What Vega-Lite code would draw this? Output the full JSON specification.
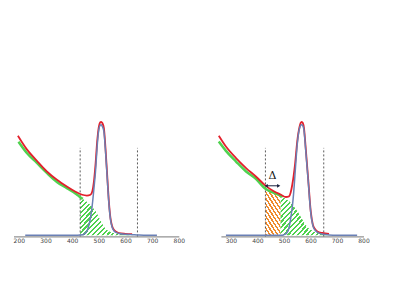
{
  "$schema": "https://vega.github.io/schema/vega-lite/v6.json",
  "padding": {"left": 12.5, "top": 117.8, "right": 0, "bottom": 0},
  "background": "white",
  "bounds": "flush",
  "spacing": 41.4,
  "config": {
    "view": {"stroke": null},
    "axis": {"domainColor": "#555", "domainWidth": 0.8, "ticks": false, "grid": false, "labelFontSize": 6, "labelColor": "#444", "labelPadding": 1, "labelFont": "DejaVu Sans", "labelFlush": false, "labelOverlap": false}
  },
  "datasets": {
    "L": [
      {"s": "red", "x": 196.5, "y": 87.7}, {"s": "red", "x": 230, "y": 75.7}, {"s": "red", "x": 267.7, "y": 65.6}, {"s": "red", "x": 305, "y": 56.2}, {"s": "red", "x": 342.7, "y": 48.9}, {"s": "red", "x": 380, "y": 43.0}, {"s": "red", "x": 411, "y": 38.6}, {"s": "red", "x": 437.6, "y": 35.7}, {"s": "red", "x": 455, "y": 35}, {"s": "red", "x": 468.7, "y": 35.7}, {"s": "red", "x": 476, "y": 39}, {"s": "red", "x": 481.5, "y": 47}, {"s": "red", "x": 487.5, "y": 62}, {"s": "red", "x": 493.8, "y": 82.6}, {"s": "red", "x": 500.2, "y": 95.8}, {"s": "red", "x": 505, "y": 99.5}, {"s": "red", "x": 508.8, "y": 100}, {"s": "red", "x": 513, "y": 99}, {"s": "red", "x": 519, "y": 94.5}, {"s": "red", "x": 525, "y": 76.8}, {"s": "red", "x": 531.3, "y": 53.3}, {"s": "red", "x": 537.7, "y": 29.8}, {"s": "red", "x": 543.7, "y": 15.1}, {"s": "red", "x": 550, "y": 8}, {"s": "red", "x": 556.5, "y": 4.8}, {"s": "red", "x": 565, "y": 3}, {"s": "red", "x": 575, "y": 1.9}, {"s": "red", "x": 600, "y": 1.3}, {"s": "red", "x": 625, "y": 1.0},
      {"s": "green", "x": 198.7, "y": 82.4}, {"s": "green", "x": 230, "y": 72.5}, {"s": "green", "x": 267.7, "y": 63.7}, {"s": "green", "x": 305, "y": 54.9}, {"s": "green", "x": 342.7, "y": 47.0}, {"s": "green", "x": 380, "y": 41.5}, {"s": "green", "x": 417.7, "y": 36.0}, {"s": "green", "x": 430, "y": 33.5}, {"s": "green", "x": 440, "y": 32},
      {"s": "hatch", "x": 430, "y": 33.5}, {"s": "hatch", "x": 440, "y": 32}, {"s": "hatch", "x": 449, "y": 30.7}, {"s": "hatch", "x": 458, "y": 29}, {"s": "hatch", "x": 467.6, "y": 26.9}, {"s": "hatch", "x": 480, "y": 23.5}, {"s": "hatch", "x": 492.7, "y": 19.5}, {"s": "hatch", "x": 502, "y": 15}, {"s": "hatch", "x": 511.5, "y": 10.7}, {"s": "hatch", "x": 520, "y": 7.2}, {"s": "hatch", "x": 530, "y": 4.8}, {"s": "hatch", "x": 542, "y": 3}, {"s": "hatch", "x": 555, "y": 1.9}, {"s": "hatch", "x": 570, "y": 1.3}, {"s": "hatch", "x": 586, "y": 1}, {"s": "hatch", "x": 600, "y": 0.6}, {"s": "hatch", "x": 615, "y": 0.2},
      {"s": "blue", "x": 224, "y": 0}, {"s": "blue", "x": 300, "y": 0}, {"s": "blue", "x": 400, "y": 0}, {"s": "blue", "x": 440, "y": 0.5}, {"s": "blue", "x": 450, "y": 2}, {"s": "blue", "x": 458, "y": 5}, {"s": "blue", "x": 465, "y": 11}, {"s": "blue", "x": 472.5, "y": 21}, {"s": "blue", "x": 477, "y": 30}, {"s": "blue", "x": 482, "y": 42}, {"s": "blue", "x": 487.5, "y": 56}, {"s": "blue", "x": 492, "y": 72}, {"s": "blue", "x": 496, "y": 85}, {"s": "blue", "x": 500, "y": 93}, {"s": "blue", "x": 505, "y": 97}, {"s": "blue", "x": 508.8, "y": 97.5}, {"s": "blue", "x": 513, "y": 96}, {"s": "blue", "x": 519, "y": 91.5}, {"s": "blue", "x": 525, "y": 74.5}, {"s": "blue", "x": 531.3, "y": 51.5}, {"s": "blue", "x": 537.7, "y": 28.5}, {"s": "blue", "x": 543.7, "y": 14}, {"s": "blue", "x": 550, "y": 7}, {"s": "blue", "x": 556.5, "y": 4}, {"s": "blue", "x": 565, "y": 2.5}, {"s": "blue", "x": 575, "y": 1.5}, {"s": "blue", "x": 600, "y": 0.8}, {"s": "blue", "x": 625, "y": 0.5}, {"s": "blue", "x": 650, "y": 0.2}, {"s": "blue", "x": 680, "y": 0}, {"s": "blue", "x": 718, "y": 0},
      {"s": "dash", "x": 430, "y": -1, "y2": 77}, {"s": "dash", "x": 645, "y": -1, "y2": 77}
    ],
    "R": [
      {"s": "red", "x": 254, "y": 87.7}, {"s": "red", "x": 281, "y": 78.2}, {"s": "red", "x": 319, "y": 68}, {"s": "red", "x": 357, "y": 59.2}, {"s": "red", "x": 394, "y": 51.8}, {"s": "red", "x": 429, "y": 44}, {"s": "red", "x": 460, "y": 39}, {"s": "red", "x": 489, "y": 35.7}, {"s": "red", "x": 507, "y": 33.7}, {"s": "red", "x": 519, "y": 34.2}, {"s": "red", "x": 525, "y": 37.5}, {"s": "red", "x": 531.3, "y": 44.5}, {"s": "red", "x": 541.5, "y": 62}, {"s": "red", "x": 550, "y": 82.6}, {"s": "red", "x": 559, "y": 95.8}, {"s": "red", "x": 563, "y": 99}, {"s": "red", "x": 567, "y": 100}, {"s": "red", "x": 571, "y": 99}, {"s": "red", "x": 575.5, "y": 94.5}, {"s": "red", "x": 582, "y": 76.8}, {"s": "red", "x": 592, "y": 47.4}, {"s": "red", "x": 601, "y": 21}, {"s": "red", "x": 609, "y": 9.3}, {"s": "red", "x": 617, "y": 5.5}, {"s": "red", "x": 626, "y": 3.4}, {"s": "red", "x": 645, "y": 2}, {"s": "red", "x": 670, "y": 1.3},
      {"s": "green", "x": 254, "y": 82.6}, {"s": "green", "x": 281, "y": 74.4}, {"s": "green", "x": 319, "y": 65}, {"s": "green", "x": 357, "y": 56.2}, {"s": "green", "x": 394, "y": 49.8}, {"s": "green", "x": 430, "y": 41}, {"s": "green", "x": 460, "y": 37.5}, {"s": "green", "x": 488, "y": 34.8}, {"s": "green", "x": 495, "y": 33.8},
      {"s": "orange", "x": 430, "y": 41}, {"s": "orange", "x": 445, "y": 39.2}, {"s": "orange", "x": 460, "y": 37.5}, {"s": "orange", "x": 475, "y": 36}, {"s": "orange", "x": 487, "y": 34.8},
      {"s": "hatch", "x": 487, "y": 34.8}, {"s": "hatch", "x": 500, "y": 33}, {"s": "hatch", "x": 513, "y": 31}, {"s": "hatch", "x": 526.4, "y": 28.4}, {"s": "hatch", "x": 539, "y": 25}, {"s": "hatch", "x": 551.7, "y": 21}, {"s": "hatch", "x": 564, "y": 16}, {"s": "hatch", "x": 576.9, "y": 10.7}, {"s": "hatch", "x": 589, "y": 7}, {"s": "hatch", "x": 602, "y": 4.8}, {"s": "hatch", "x": 614, "y": 3}, {"s": "hatch", "x": 627.2, "y": 1.9}, {"s": "hatch", "x": 640, "y": 1}, {"s": "hatch", "x": 655, "y": 0.4}, {"s": "hatch", "x": 670, "y": 0},
      {"s": "blue", "x": 281, "y": 0}, {"s": "blue", "x": 400, "y": 0}, {"s": "blue", "x": 490, "y": 0}, {"s": "blue", "x": 500, "y": 0.5}, {"s": "blue", "x": 505, "y": 1}, {"s": "blue", "x": 510.5, "y": 2}, {"s": "blue", "x": 517, "y": 5}, {"s": "blue", "x": 523.4, "y": 12}, {"s": "blue", "x": 528, "y": 19}, {"s": "blue", "x": 532, "y": 26.4}, {"s": "blue", "x": 536, "y": 36}, {"s": "blue", "x": 539.6, "y": 47}, {"s": "blue", "x": 545, "y": 65}, {"s": "blue", "x": 550, "y": 80}, {"s": "blue", "x": 555, "y": 90}, {"s": "blue", "x": 559, "y": 94.5}, {"s": "blue", "x": 563, "y": 97}, {"s": "blue", "x": 567, "y": 97.5}, {"s": "blue", "x": 571, "y": 96.5}, {"s": "blue", "x": 575.5, "y": 92.5}, {"s": "blue", "x": 582, "y": 75}, {"s": "blue", "x": 592, "y": 46}, {"s": "blue", "x": 601, "y": 20}, {"s": "blue", "x": 609, "y": 8.5}, {"s": "blue", "x": 617, "y": 4.5}, {"s": "blue", "x": 626, "y": 2.5}, {"s": "blue", "x": 650, "y": 0.8}, {"s": "blue", "x": 670, "y": 0.3}, {"s": "blue", "x": 700, "y": 0}, {"s": "blue", "x": 776, "y": 0},
      {"s": "dash", "x": 430, "y": -1, "y2": 77}, {"s": "dash", "x": 650, "y": -1, "y2": 77},
      {"s": "arrow", "x": 433, "x2": 480, "y": 43.6},
      {"s": "al", "x": 433, "y": 43.6}, {"s": "ar", "x": 480, "y": 43.6},
      {"s": "label", "x": 457, "y": 51.8, "t": "Δ"}
    ]
  },
  "hconcat": [
    {
      "width": 165.3,
      "height": 114.6,
      "data": {"name": "L"},
      "encoding": {
        "x": {"field": "x", "type": "quantitative", "scale": {"domain": [180, 800], "nice": false, "zero": false}, "axis": {"values": [200, 300, 400, 500, 600, 700, 800], "title": null}},
        "y": {"field": "y", "type": "quantitative", "scale": {"domain": [-1, 100], "nice": false, "zero": false}, "axis": null}
      },
      "layer": [
        {"transform": [{"filter": "datum.s === 'hatch'"}], "mark": {"type": "area", "interpolate": "monotone", "fill": {"gradient": "linear", "x1": 0, "y1": 0, "x2": 1, "y2": 0.75, "stops": [
          {"offset": 0, "color": "#4fd24f"}, {"offset": 0.028, "color": "#4fd24f"}, {"offset": 0.028, "color": "rgba(255,255,255,0)"}, {"offset": 0.0625, "color": "rgba(255,255,255,0)"},
          {"offset": 0.0625, "color": "#4fd24f"}, {"offset": 0.0905, "color": "#4fd24f"}, {"offset": 0.0905, "color": "rgba(255,255,255,0)"}, {"offset": 0.125, "color": "rgba(255,255,255,0)"},
          {"offset": 0.125, "color": "#4fd24f"}, {"offset": 0.153, "color": "#4fd24f"}, {"offset": 0.153, "color": "rgba(255,255,255,0)"}, {"offset": 0.1875, "color": "rgba(255,255,255,0)"},
          {"offset": 0.1875, "color": "#4fd24f"}, {"offset": 0.2155, "color": "#4fd24f"}, {"offset": 0.2155, "color": "rgba(255,255,255,0)"}, {"offset": 0.25, "color": "rgba(255,255,255,0)"},
          {"offset": 0.25, "color": "#4fd24f"}, {"offset": 0.278, "color": "#4fd24f"}, {"offset": 0.278, "color": "rgba(255,255,255,0)"}, {"offset": 0.3125, "color": "rgba(255,255,255,0)"},
          {"offset": 0.3125, "color": "#4fd24f"}, {"offset": 0.3405, "color": "#4fd24f"}, {"offset": 0.3405, "color": "rgba(255,255,255,0)"}, {"offset": 0.375, "color": "rgba(255,255,255,0)"},
          {"offset": 0.375, "color": "#4fd24f"}, {"offset": 0.403, "color": "#4fd24f"}, {"offset": 0.403, "color": "rgba(255,255,255,0)"}, {"offset": 0.4375, "color": "rgba(255,255,255,0)"},
          {"offset": 0.4375, "color": "#4fd24f"}, {"offset": 0.4655, "color": "#4fd24f"}, {"offset": 0.4655, "color": "rgba(255,255,255,0)"}, {"offset": 0.5, "color": "rgba(255,255,255,0)"},
          {"offset": 0.5, "color": "#4fd24f"}, {"offset": 0.528, "color": "#4fd24f"}, {"offset": 0.528, "color": "rgba(255,255,255,0)"}, {"offset": 0.5625, "color": "rgba(255,255,255,0)"},
          {"offset": 0.5625, "color": "#4fd24f"}, {"offset": 0.5905, "color": "#4fd24f"}, {"offset": 0.5905, "color": "rgba(255,255,255,0)"}, {"offset": 0.625, "color": "rgba(255,255,255,0)"},
          {"offset": 0.625, "color": "#4fd24f"}, {"offset": 0.653, "color": "#4fd24f"}, {"offset": 0.653, "color": "rgba(255,255,255,0)"}, {"offset": 0.6875, "color": "rgba(255,255,255,0)"},
          {"offset": 0.6875, "color": "#4fd24f"}, {"offset": 0.7155, "color": "#4fd24f"}, {"offset": 0.7155, "color": "rgba(255,255,255,0)"}, {"offset": 0.75, "color": "rgba(255,255,255,0)"},
          {"offset": 0.75, "color": "#4fd24f"}, {"offset": 0.778, "color": "#4fd24f"}, {"offset": 0.778, "color": "rgba(255,255,255,0)"}, {"offset": 0.8125, "color": "rgba(255,255,255,0)"},
          {"offset": 0.8125, "color": "#4fd24f"}, {"offset": 0.8405, "color": "#4fd24f"}, {"offset": 0.8405, "color": "rgba(255,255,255,0)"}, {"offset": 0.875, "color": "rgba(255,255,255,0)"},
          {"offset": 0.875, "color": "#4fd24f"}, {"offset": 0.903, "color": "#4fd24f"}, {"offset": 0.903, "color": "rgba(255,255,255,0)"}, {"offset": 0.9375, "color": "rgba(255,255,255,0)"},
          {"offset": 0.9375, "color": "#4fd24f"}, {"offset": 0.9655, "color": "#4fd24f"}, {"offset": 0.9655, "color": "rgba(255,255,255,0)"}, {"offset": 0.99, "color": "rgba(255,255,255,0)"},
          {"offset": 0.99, "color": "#4fd24f"}, {"offset": 1, "color": "#4fd24f"}
        ]}}, "encoding": {"y2": {"datum": 0}}},
        {"transform": [{"filter": "datum.s === 'dash'"}], "mark": {"type": "rule", "color": "#333", "strokeWidth": 0.8, "strokeDash": [2, 2]}, "encoding": {"y2": {"field": "y2"}}},
        {"transform": [{"filter": "datum.s === 'green'"}], "mark": {"type": "line", "interpolate": "monotone", "color": "#4fd24f", "strokeWidth": 2.5}},
        {"transform": [{"filter": "datum.s === 'red'"}], "mark": {"type": "line", "interpolate": "monotone", "color": "#e3202c", "strokeWidth": 1.8}},
        {"transform": [{"filter": "datum.s === 'blue'"}], "mark": {"type": "line", "interpolate": "monotone", "color": "#6a80b5", "strokeWidth": 1.5}}
      ]
    },
    {
      "width": 142.6,
      "height": 114.6,
      "data": {"name": "R"},
      "encoding": {
        "x": {"field": "x", "type": "quantitative", "scale": {"domain": [262, 800], "nice": false, "zero": false}, "axis": {"values": [300, 400, 500, 600, 700, 800], "title": null}},
        "y": {"field": "y", "type": "quantitative", "scale": {"domain": [-1, 100], "nice": false, "zero": false}, "axis": null}
      },
      "layer": [
        {"transform": [{"filter": "datum.s === 'orange'"}], "mark": {"type": "area", "interpolate": "monotone", "fill": {"gradient": "linear", "x1": 0, "y1": 1, "x2": 0.825, "y2": -0.65, "stops": [
          {"offset": 0, "color": "#ef8a2c"}, {"offset": 0.028, "color": "#ef8a2c"}, {"offset": 0.028, "color": "rgba(255,255,255,0)"}, {"offset": 0.0625, "color": "rgba(255,255,255,0)"},
          {"offset": 0.0625, "color": "#ef8a2c"}, {"offset": 0.0905, "color": "#ef8a2c"}, {"offset": 0.0905, "color": "rgba(255,255,255,0)"}, {"offset": 0.125, "color": "rgba(255,255,255,0)"},
          {"offset": 0.125, "color": "#ef8a2c"}, {"offset": 0.153, "color": "#ef8a2c"}, {"offset": 0.153, "color": "rgba(255,255,255,0)"}, {"offset": 0.1875, "color": "rgba(255,255,255,0)"},
          {"offset": 0.1875, "color": "#ef8a2c"}, {"offset": 0.2155, "color": "#ef8a2c"}, {"offset": 0.2155, "color": "rgba(255,255,255,0)"}, {"offset": 0.25, "color": "rgba(255,255,255,0)"},
          {"offset": 0.25, "color": "#ef8a2c"}, {"offset": 0.278, "color": "#ef8a2c"}, {"offset": 0.278, "color": "rgba(255,255,255,0)"}, {"offset": 0.3125, "color": "rgba(255,255,255,0)"},
          {"offset": 0.3125, "color": "#ef8a2c"}, {"offset": 0.3405, "color": "#ef8a2c"}, {"offset": 0.3405, "color": "rgba(255,255,255,0)"}, {"offset": 0.375, "color": "rgba(255,255,255,0)"},
          {"offset": 0.375, "color": "#ef8a2c"}, {"offset": 0.403, "color": "#ef8a2c"}, {"offset": 0.403, "color": "rgba(255,255,255,0)"}, {"offset": 0.4375, "color": "rgba(255,255,255,0)"},
          {"offset": 0.4375, "color": "#ef8a2c"}, {"offset": 0.4655, "color": "#ef8a2c"}, {"offset": 0.4655, "color": "rgba(255,255,255,0)"}, {"offset": 0.5, "color": "rgba(255,255,255,0)"},
          {"offset": 0.5, "color": "#ef8a2c"}, {"offset": 0.528, "color": "#ef8a2c"}, {"offset": 0.528, "color": "rgba(255,255,255,0)"}, {"offset": 0.5625, "color": "rgba(255,255,255,0)"},
          {"offset": 0.5625, "color": "#ef8a2c"}, {"offset": 0.5905, "color": "#ef8a2c"}, {"offset": 0.5905, "color": "rgba(255,255,255,0)"}, {"offset": 0.625, "color": "rgba(255,255,255,0)"},
          {"offset": 0.625, "color": "#ef8a2c"}, {"offset": 0.653, "color": "#ef8a2c"}, {"offset": 0.653, "color": "rgba(255,255,255,0)"}, {"offset": 0.6875, "color": "rgba(255,255,255,0)"},
          {"offset": 0.6875, "color": "#ef8a2c"}, {"offset": 0.7155, "color": "#ef8a2c"}, {"offset": 0.7155, "color": "rgba(255,255,255,0)"}, {"offset": 0.75, "color": "rgba(255,255,255,0)"},
          {"offset": 0.75, "color": "#ef8a2c"}, {"offset": 0.778, "color": "#ef8a2c"}, {"offset": 0.778, "color": "rgba(255,255,255,0)"}, {"offset": 0.8125, "color": "rgba(255,255,255,0)"},
          {"offset": 0.8125, "color": "#ef8a2c"}, {"offset": 0.8405, "color": "#ef8a2c"}, {"offset": 0.8405, "color": "rgba(255,255,255,0)"}, {"offset": 0.875, "color": "rgba(255,255,255,0)"},
          {"offset": 0.875, "color": "#ef8a2c"}, {"offset": 0.903, "color": "#ef8a2c"}, {"offset": 0.903, "color": "rgba(255,255,255,0)"}, {"offset": 0.9375, "color": "rgba(255,255,255,0)"},
          {"offset": 0.9375, "color": "#ef8a2c"}, {"offset": 0.9655, "color": "#ef8a2c"}, {"offset": 0.9655, "color": "rgba(255,255,255,0)"}, {"offset": 1, "color": "rgba(255,255,255,0)"}
        ]}}, "encoding": {"y2": {"datum": 0}}},
        {"transform": [{"filter": "datum.s === 'hatch'"}], "mark": {"type": "area", "interpolate": "monotone", "fill": {"gradient": "linear", "x1": 0, "y1": 0, "x2": 1, "y2": 0.75, "stops": [
          {"offset": 0, "color": "#4fd24f"}, {"offset": 0.028, "color": "#4fd24f"}, {"offset": 0.028, "color": "rgba(255,255,255,0)"}, {"offset": 0.0625, "color": "rgba(255,255,255,0)"},
          {"offset": 0.0625, "color": "#4fd24f"}, {"offset": 0.0905, "color": "#4fd24f"}, {"offset": 0.0905, "color": "rgba(255,255,255,0)"}, {"offset": 0.125, "color": "rgba(255,255,255,0)"},
          {"offset": 0.125, "color": "#4fd24f"}, {"offset": 0.153, "color": "#4fd24f"}, {"offset": 0.153, "color": "rgba(255,255,255,0)"}, {"offset": 0.1875, "color": "rgba(255,255,255,0)"},
          {"offset": 0.1875, "color": "#4fd24f"}, {"offset": 0.2155, "color": "#4fd24f"}, {"offset": 0.2155, "color": "rgba(255,255,255,0)"}, {"offset": 0.25, "color": "rgba(255,255,255,0)"},
          {"offset": 0.25, "color": "#4fd24f"}, {"offset": 0.278, "color": "#4fd24f"}, {"offset": 0.278, "color": "rgba(255,255,255,0)"}, {"offset": 0.3125, "color": "rgba(255,255,255,0)"},
          {"offset": 0.3125, "color": "#4fd24f"}, {"offset": 0.3405, "color": "#4fd24f"}, {"offset": 0.3405, "color": "rgba(255,255,255,0)"}, {"offset": 0.375, "color": "rgba(255,255,255,0)"},
          {"offset": 0.375, "color": "#4fd24f"}, {"offset": 0.403, "color": "#4fd24f"}, {"offset": 0.403, "color": "rgba(255,255,255,0)"}, {"offset": 0.4375, "color": "rgba(255,255,255,0)"},
          {"offset": 0.4375, "color": "#4fd24f"}, {"offset": 0.4655, "color": "#4fd24f"}, {"offset": 0.4655, "color": "rgba(255,255,255,0)"}, {"offset": 0.5, "color": "rgba(255,255,255,0)"},
          {"offset": 0.5, "color": "#4fd24f"}, {"offset": 0.528, "color": "#4fd24f"}, {"offset": 0.528, "color": "rgba(255,255,255,0)"}, {"offset": 0.5625, "color": "rgba(255,255,255,0)"},
          {"offset": 0.5625, "color": "#4fd24f"}, {"offset": 0.5905, "color": "#4fd24f"}, {"offset": 0.5905, "color": "rgba(255,255,255,0)"}, {"offset": 0.625, "color": "rgba(255,255,255,0)"},
          {"offset": 0.625, "color": "#4fd24f"}, {"offset": 0.653, "color": "#4fd24f"}, {"offset": 0.653, "color": "rgba(255,255,255,0)"}, {"offset": 0.6875, "color": "rgba(255,255,255,0)"},
          {"offset": 0.6875, "color": "#4fd24f"}, {"offset": 0.7155, "color": "#4fd24f"}, {"offset": 0.7155, "color": "rgba(255,255,255,0)"}, {"offset": 0.75, "color": "rgba(255,255,255,0)"},
          {"offset": 0.75, "color": "#4fd24f"}, {"offset": 0.778, "color": "#4fd24f"}, {"offset": 0.778, "color": "rgba(255,255,255,0)"}, {"offset": 0.8125, "color": "rgba(255,255,255,0)"},
          {"offset": 0.8125, "color": "#4fd24f"}, {"offset": 0.8405, "color": "#4fd24f"}, {"offset": 0.8405, "color": "rgba(255,255,255,0)"}, {"offset": 0.875, "color": "rgba(255,255,255,0)"},
          {"offset": 0.875, "color": "#4fd24f"}, {"offset": 0.903, "color": "#4fd24f"}, {"offset": 0.903, "color": "rgba(255,255,255,0)"}, {"offset": 0.9375, "color": "rgba(255,255,255,0)"},
          {"offset": 0.9375, "color": "#4fd24f"}, {"offset": 0.9655, "color": "#4fd24f"}, {"offset": 0.9655, "color": "rgba(255,255,255,0)"}, {"offset": 0.99, "color": "rgba(255,255,255,0)"},
          {"offset": 0.99, "color": "#4fd24f"}, {"offset": 1, "color": "#4fd24f"}
        ]}}, "encoding": {"y2": {"datum": 0}}},
        {"transform": [{"filter": "datum.s === 'dash'"}], "mark": {"type": "rule", "color": "#333", "strokeWidth": 0.8, "strokeDash": [2, 2]}, "encoding": {"y2": {"field": "y2"}}},
        {"transform": [{"filter": "datum.s === 'green'"}], "mark": {"type": "line", "interpolate": "monotone", "color": "#4fd24f", "strokeWidth": 2.5}},
        {"transform": [{"filter": "datum.s === 'red'"}], "mark": {"type": "line", "interpolate": "monotone", "color": "#e3202c", "strokeWidth": 1.8}},
        {"transform": [{"filter": "datum.s === 'blue'"}], "mark": {"type": "line", "interpolate": "monotone", "color": "#6a80b5", "strokeWidth": 1.5}},
        {"transform": [{"filter": "datum.s === 'arrow'"}], "mark": {"type": "rule", "color": "#1a2340", "strokeWidth": 1}, "encoding": {"x2": {"field": "x2"}}},
        {"transform": [{"filter": "datum.s === 'al'"}], "mark": {"type": "point", "shape": "triangle-left", "filled": true, "size": 14, "color": "#1a2340", "opacity": 1}},
        {"transform": [{"filter": "datum.s === 'ar'"}], "mark": {"type": "point", "shape": "triangle-right", "filled": true, "size": 14, "color": "#1a2340", "opacity": 1}},
        {"transform": [{"filter": "datum.s === 'label'"}], "mark": {"type": "text", "font": "DejaVu Serif", "fontSize": 11, "color": "#111", "baseline": "middle", "align": "center"}, "encoding": {"text": {"field": "t"}}}
      ]
    }
  ]
}
